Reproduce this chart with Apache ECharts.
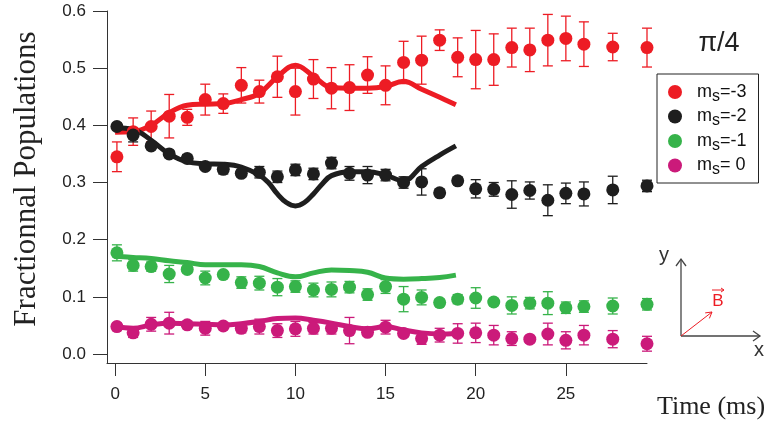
<!DOCTYPE html>
<html>
<head>
<meta charset="utf-8">
<script src="https://cdn.jsdelivr.net/npm/echarts@6/dist/echarts.min.js"></script>
<style>html,body{margin:0;padding:0;background:#fff}#c{width:767px;height:423px}</style>
</head>
<body>
<div id="c"></div>
<script>
// ---- data ----
var times = [0.1,1,2,3,4,5,6,7,8,9,10,11,12,13,14,15,16,17,18,19,20,21,22,23,24,25,26,27.6,29.5];
var red = [0.345,0.389,0.398,0.416,0.414,0.445,0.438,0.470,0.459,0.485,0.459,0.481,0.465,0.466,0.488,0.470,0.510,0.514,0.549,0.519,0.515,0.515,0.536,0.532,0.549,0.552,0.542,0.537,0.536];
var redErr = [0.026,0.024,0.027,0.038,0.014,0.027,0.017,0.031,0.020,0.036,0.041,0.034,0.036,0.040,0.032,0.034,0.037,0.042,0.018,0.034,0.051,0.045,0.034,0.038,0.045,0.039,0.039,0.024,0.034];
var black = [0.398,0.383,0.364,0.350,0.342,0.328,0.323,0.316,0.318,0.310,0.322,0.315,0.334,0.316,0.313,0.313,0.300,0.301,0.282,0.303,0.289,0.288,0.279,0.286,0.269,0.281,0.280,0.287,0.294];
var blackErr = [0.006,0.012,0.005,0.006,0.007,0.005,0.008,0.006,0.010,0.010,0.010,0.010,0.010,0.012,0.015,0.010,0.010,0.023,0.006,0.006,0.016,0.012,0.024,0.015,0.027,0.018,0.021,0.024,0.010];
var green = [0.177,0.155,0.153,0.140,0.148,0.133,0.139,0.125,0.124,0.117,0.118,0.112,0.113,0.117,0.104,0.118,0.096,0.099,0.090,0.096,0.098,0.091,0.085,0.089,0.089,0.081,0.083,0.084,0.087];
var greenErr = [0.014,0.010,0.008,0.015,0.006,0.012,0.005,0.010,0.012,0.015,0.010,0.012,0.013,0.010,0.010,0.012,0.022,0.013,0.006,0.008,0.018,0.006,0.015,0.010,0.020,0.010,0.010,0.014,0.010];
var magenta = [0.048,0.037,0.052,0.054,0.051,0.045,0.049,0.045,0.048,0.041,0.044,0.045,0.045,0.041,0.038,0.047,0.036,0.027,0.033,0.036,0.037,0.033,0.027,0.026,0.035,0.024,0.033,0.026,0.018];
var magentaErr = [0.006,0.008,0.012,0.019,0.005,0.012,0.005,0.008,0.013,0.012,0.013,0.010,0.010,0.023,0.006,0.012,0.006,0.010,0.012,0.017,0.017,0.017,0.012,0.006,0.019,0.015,0.017,0.015,0.013];

var fitTimes = [0,1,2,3,4,5,6,7,8,9,10,11,12,13,14,15,16,17,18,18.9];
var redFit = [0.388,0.389,0.400,0.422,0.435,0.437,0.438,0.445,0.456,0.485,0.505,0.486,0.466,0.465,0.465,0.468,0.477,0.463,0.449,0.436];
var greenFit = [0.171,0.169,0.167,0.163,0.160,0.156,0.156,0.156,0.153,0.142,0.135,0.142,0.147,0.146,0.143,0.133,0.131,0.132,0.134,0.138];
var magentaFit = [0.048,0.045,0.051,0.054,0.053,0.052,0.051,0.053,0.057,0.062,0.063,0.059,0.054,0.048,0.044,0.048,0.042,0.037,0.035,0.036];
var blackFitTimes = [0,1,2,3,4,5,6,7,8,8.5,9,9.5,10,10.5,11,11.5,12,13,14,15,16,17,18,18.9];
var blackFit = [0.396,0.393,0.374,0.350,0.336,0.333,0.332,0.327,0.313,0.300,0.280,0.265,0.259,0.265,0.280,0.298,0.312,0.319,0.319,0.313,0.303,0.328,0.348,0.364];

var seriesNames = ['m_s=-3','m_s=-2','m_s=-1','m_s= 0'];
var colors = ['#ED1C24','#1E1E1E','#36B34A','#CB1A7A'];
var xTicks = [0,5,10,15,20,25];
var yTicks = [0,0.1,0.2,0.3,0.4,0.5,0.6];

var dataSets = [[red,redErr],[black,blackErr],[green,greenErr],[magenta,magentaErr]];
var fits = [[fitTimes,redFit],[blackFitTimes,blackFit],[fitTimes,greenFit],[fitTimes,magentaFit]];

function zip2(a,b){return a.map(function(v,i){return [v,b[i]];});}
function zip3(a,b,c){return a.map(function(v,i){return [v,b[i],c[i]];});}

var series = [];
dataSets.forEach(function(d,k){
  series.push({
    type:'custom', name:'err'+k, z:2, silent:true,
    data: zip3(times,d[0],d[1]),
    renderItem:function(params,api){
      var x=api.value(0), y=api.value(1), e=api.value(2);
      var top=api.coord([x,y+e]), bot=api.coord([x,y-e]);
      var c=colors[k], w=5;
      var st={stroke:c,lineWidth:1.3};
      return {type:'group',children:[
        {type:'line',shape:{x1:top[0],y1:top[1],x2:bot[0],y2:bot[1]},style:st},
        {type:'line',shape:{x1:top[0]-w,y1:top[1],x2:top[0]+w,y2:top[1]},style:st},
        {type:'line',shape:{x1:bot[0]-w,y1:bot[1],x2:bot[0]+w,y2:bot[1]},style:st}
      ]};
    }
  });
});
fits.forEach(function(f,k){
  series.push({
    type:'line', name:'fit'+k, z:3, smooth:0.4, symbol:'none', silent:true,
    data: zip2(f[0],f[1]),
    lineStyle:{color:colors[k],width:5}
  });
});
dataSets.forEach(function(d,k){
  series.push({
    type:'scatter', name:seriesNames[k], z:4, symbol:'circle', symbolSize:13,
    itemStyle:{color:colors[k],opacity:1},
    data: zip2(times,d[0])
  });
});

var axisCol = '#333';
var chart = echarts.init(document.getElementById('c'), null, {renderer:'canvas'});
chart.setOption({
  animation:false,
  backgroundColor:'#fff',
  grid:{left:107,top:11,right:120,bottom:60,containLabel:false},
  xAxis:{
    type:'value', min:-0.45, max:29.5,
    axisLine:{show:true,onZero:false,lineStyle:{color:axisCol,width:1}},
    axisTick:{show:true,inside:false,length:13,lineStyle:{color:axisCol},customValues:xTicks},
    axisLabel:{customValues:xTicks,margin:23,fontSize:17,color:'#222',fontFamily:'Liberation Sans'},
    splitLine:{show:false}
  },
  yAxis:{
    type:'value', min:-0.0157, max:0.6,
    axisLine:{show:true,onZero:false,lineStyle:{color:axisCol,width:1}},
    axisTick:{show:true,inside:false,length:14,lineStyle:{color:axisCol},customValues:yTicks},
    axisLabel:{customValues:yTicks,margin:21,fontSize:17,color:'#222',fontFamily:'Liberation Sans',
      formatter:function(v){return v.toFixed(1);}},
    splitLine:{show:false}
  },
  legend:{
    data:seriesNames, orient:'vertical', left:657, top:74,
    itemWidth:34, itemHeight:14, itemGap:3, icon:'circle',
    padding:[9,12,5,11], borderColor:'#222', borderWidth:1,
    formatter:function(n){return 'm{s|s}'+n.slice(3);},
    textStyle:{fontSize:18,color:'#111',fontFamily:'Liberation Sans',
      rich:{s:{fontSize:16,fontFamily:'Liberation Sans',color:'#111',padding:[9,0,0,0]}}}
  },
  graphic:[
    {type:'text',x:27,y:179,rotation:Math.PI/2,style:{text:'Fractionnal Populations',font:'31px "Liberation Serif"',fill:'#222',align:'center',verticalAlign:'middle'}},
    {type:'text',x:711,y:407,style:{text:'Time (ms)',font:'26px "Liberation Serif"',fill:'#222',align:'center',verticalAlign:'middle'}},
    {type:'text',x:719,y:44,style:{text:'π/4',font:'27px "Liberation Sans"',fill:'#222',align:'center',verticalAlign:'middle'}},
    {type:'polyline',shape:{points:[[681,336],[681,259]]},style:{stroke:'#444',lineWidth:1.3,fill:null}},
    {type:'polyline',shape:{points:[[676,266],[681,259],[686,266]]},style:{stroke:'#444',lineWidth:1.3,fill:null}},
    {type:'polyline',shape:{points:[[681,336],[760,336]]},style:{stroke:'#444',lineWidth:1.3,fill:null}},
    {type:'polyline',shape:{points:[[753,331],[760,336],[753,341]]},style:{stroke:'#444',lineWidth:1.3,fill:null}},
    {type:'polyline',shape:{points:[[681,336],[712,312]]},style:{stroke:'#ED1C24',lineWidth:1,fill:null}},
    {type:'polyline',shape:{points:[[709.4,318.4],[712,312],[705.2,312.9]]},style:{stroke:'#ED1C24',lineWidth:1,fill:null}},
    {type:'text',x:718,y:301,style:{text:'B',font:'17px "Liberation Sans"',fill:'#ED1C24',align:'center',verticalAlign:'middle'}},
    {type:'polyline',shape:{points:[[712,290],[724,290]]},style:{stroke:'#ED1C24',lineWidth:1,fill:null}},
    {type:'polyline',shape:{points:[[721,288],[724,290],[721,292]]},style:{stroke:'#ED1C24',lineWidth:1,fill:null}},
    {type:'text',x:664,y:255,style:{text:'y',font:'20px "Liberation Sans"',fill:'#333',align:'center',verticalAlign:'middle'}},
    {type:'text',x:759,y:350,style:{text:'x',font:'20px "Liberation Sans"',fill:'#333',align:'center',verticalAlign:'middle'}}
  ],
  series:series
});
</script>
</body>
</html>
